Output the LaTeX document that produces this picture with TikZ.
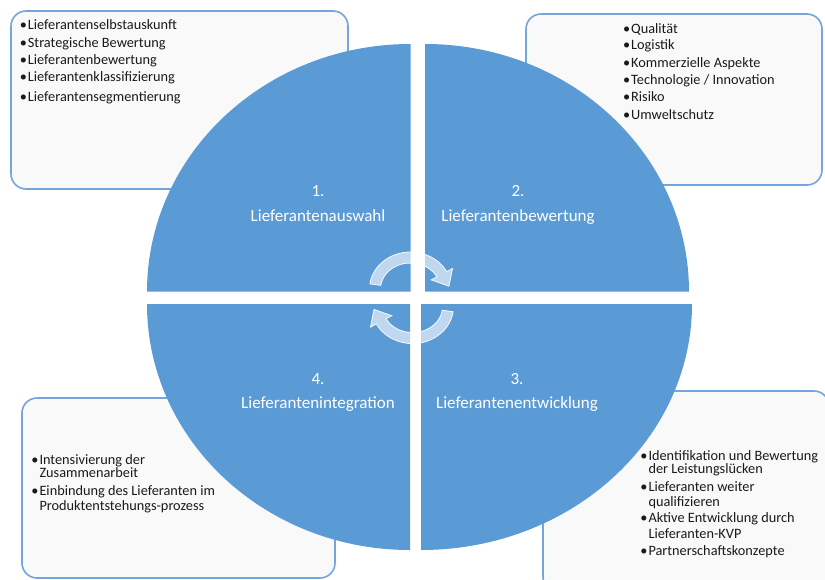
\documentclass[tikz,border=0pt]{standalone}
\usepackage{fontspec}
\setmainfont{Carlito}
\definecolor{quadblue}{HTML}{5B9BD5}
\definecolor{boxblue}{HTML}{72A6DC}
\definecolor{boxfill}{HTML}{F9F9F9}
\definecolor{txtcol}{HTML}{1A1A1A}
\newcommand\bitem[4]{\node[btxt] (#1) at (#2,-#3) {#4}; \node[bul] (#1b) at ([xshift=-0.6pt]#1.base west) {•};}
\newcommand\citem[4]{\node[btxt] (#1) at (#2,-#3) {#4};}
\newcommand\ringpath{(172:41 and 37) arc[start angle=172,end angle=28,x radius=41,y radius=37] -- (42,20.5) -- (38.5,2.8) -- (20.7,9.1) -- (28:30 and 26) arc[start angle=28,end angle=172,x radius=30,y radius=26] -- cycle}
\begin{document}
\begin{tikzpicture}[x=1pt,y=1pt,
 box/.style={draw=boxblue, line width=1.6pt, fill=boxfill, rounded corners=15pt},
 quad/.style={fill=quadblue},
 qlabel/.style={text=white, font=\fontsize{17}{20}\selectfont, inner sep=0pt, anchor=base},
 btxt/.style={text=txtcol, font=\fontsize{14.3}{16}\selectfont, inner sep=0pt, anchor=base west},
 bul/.style={text=txtcol, font=\fontsize{14.3}{16}\selectfont, inner sep=0pt, anchor=base east},
 ring/.style={fill=white, fill opacity=0.62, draw=white, draw opacity=0.9, line width=0.8pt}]
\useasboundingbox (0,0) rectangle (825,-579);
% boxes
\path[box] (11,-11) rectangle (348,-189);
\path[box] (526,-14) rectangle (822,-185);
\path[box] (22,-398) rectangle (335,-578);
\path[box] (543,-391) rectangle (829,-592);
% quadrants
\fill[quad] (410.5,-291.7) -- (147,-291.7) arc[start angle=180,end angle=90,x radius=263.5,y radius=247.7] -- cycle;
\fill[quad] (425,-291.7) -- (425,-44) arc[start angle=90,end angle=0,x radius=264,y radius=247.7] -- cycle;
\fill[quad] (410,-304) -- (147,-304) arc[start angle=180,end angle=270,x radius=263,y radius=246] -- cycle;
\fill[quad] (421,-304) -- (421,-550) arc[start angle=270,end angle=360,x radius=271,y radius=246] -- cycle;
% labels
\node[qlabel] (n1) at (318,-196) {1.};
\node[qlabel] (l1) at (318,-221) {Lieferantenauswahl};
\node[qlabel] (n2) at (518,-196) {2.};
\node[qlabel] (l2) at (518,-221) {Lieferantenbewertung};
\node[qlabel] (n4) at (318,-384) {4.};
\node[qlabel] (l4) at (318,-408) {Lieferantenintegration};
\node[qlabel] (n3) at (517,-384) {3.};
\node[qlabel] (l3) at (517,-408) {Lieferantenentwicklung};
% cycle arrows
\begin{scope}[shift={(410.5,-289)}]
\path[ring] \ringpath;
\end{scope}
\begin{scope}[shift={(412.5,-306.6)}, rotate=180]
\path[ring] \ringpath;
\end{scope}
% box texts
\bitem{a1}{27.7}{29.7}{Lieferantenselbstauskunft}
\bitem{a2}{27.7}{47.7}{Strategische Bewertung}
\bitem{a3}{27.7}{64.7}{Lieferantenbewertung}
\bitem{a4}{27.7}{81.7}{Lieferantenklassifizierung}
\bitem{a5}{27.7}{101.7}{Lieferantensegmentierung}
\bitem{b1}{631}{33.7}{Qualität}
\bitem{b2}{631}{49.7}{Logistik}
\bitem{b3}{631}{67.7}{Kommerzielle Aspekte}
\bitem{b4}{631}{84.7}{Technologie / Innovation}
\bitem{b5}{631}{101.7}{Risiko}
\bitem{b6}{631}{119.7}{Umweltschutz}
\bitem{c1}{39.3}{464.7}{Intensivierung der}
\citem{c2}{39.3}{477.7}{Zusammenarbeit}
\bitem{c3}{39.3}{495.7}{Einbindung des Lieferanten im}
\citem{c4}{39.3}{510.7}{Produktentstehungs-prozess}
\bitem{d1}{648.3}{460.7}{Identifikation und Bewertung}
\citem{d2}{648.3}{473.7}{der Leistungslücken}
\bitem{d3}{648.3}{491.7}{Lieferanten weiter}
\citem{d4}{648.3}{506.7}{qualifizieren}
\bitem{d5}{648.3}{522.7}{Aktive Entwicklung durch}
\citem{d6}{648.3}{538.7}{Lieferanten-KVP}
\bitem{d7}{648.3}{555.7}{Partnerschaftskonzepte}
\end{tikzpicture}
\end{document}
